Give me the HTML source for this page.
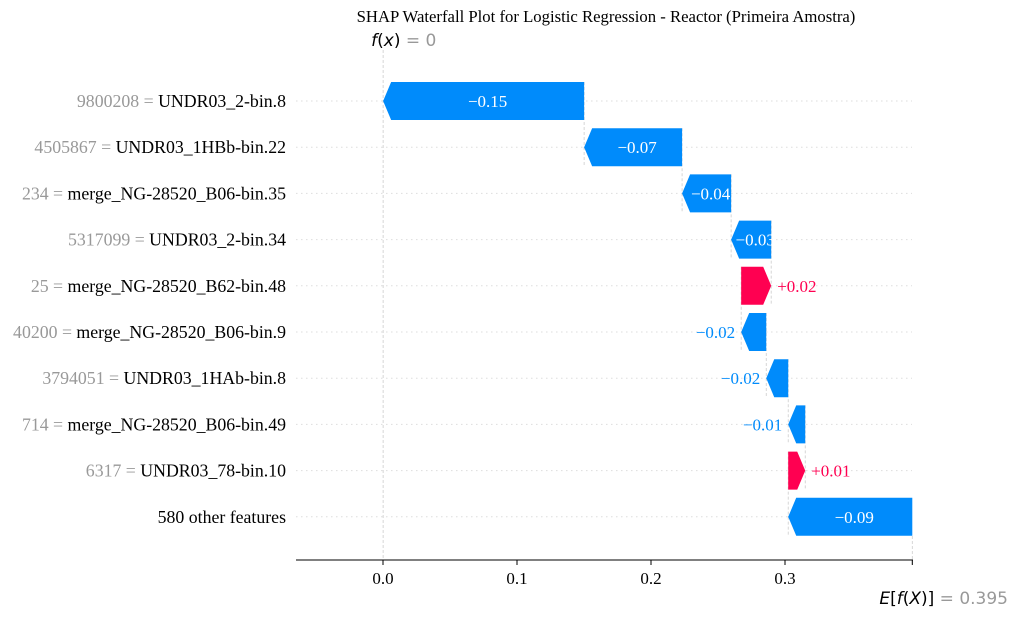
<!DOCTYPE html>
<html><head><meta charset="utf-8"><style>
body{margin:0;background:#fff;}
svg text{font-family:"Liberation Serif",serif;}
</style></head><body>
<svg id="chart" width="1019" height="618" xmlns="http://www.w3.org/2000/svg">
<text x="606" y="22" text-anchor="middle" font-size="16.7" fill="#000">SHAP Waterfall Plot for Logistic Regression - Reactor (Primeira Amostra)</text>
<g id="plot"></g>
</svg>
<script>
const featureValues = ["9800208","4505867","234","5317099","25","40200","3794051","714","6317",""];
const featureNames = ["UNDR03_2-bin.8","UNDR03_1HBb-bin.22","merge_NG-28520_B06-bin.35","UNDR03_2-bin.34","merge_NG-28520_B62-bin.48","merge_NG-28520_B06-bin.9","UNDR03_1HAb-bin.8","merge_NG-28520_B06-bin.49","UNDR03_78-bin.10","580 other features"];
const shapValues = [-0.15,-0.0731,-0.0366,-0.0299,0.0224,-0.0187,-0.0164,-0.0127,0.0127,-0.0926];
const baseValue = 0.395;
const tickValues = [0.0,0.1,0.2,0.3];
const tickLabels = ["0.0","0.1","0.2","0.3"];

const NS="http://www.w3.org/2000/svg";
const g=document.getElementById('plot');
const X=v=>383+v*1340;
const Y=i=>101+i*46.2;
function mk(tag,attrs){const e=document.createElementNS(NS,tag);for(const k in attrs)e.setAttribute(k,attrs[k]);g.appendChild(e);return e;}
const BLUE="#008bfb",RED="#ff0051";
featureNames.forEach((n,i)=>{
  const l=mk('line',{x1:296,x2:912,y1:Y(i),y2:Y(i),stroke:'#ddd','stroke-dasharray':'1.5,3.5','stroke-width':1});
  
  
});
const n=shapValues.length;
const ends=new Array(n);const starts=new Array(n);
let cur=baseValue;
for(let i=n-1;i>=0;i--){starts[i]=cur;cur=cur+shapValues[i];ends[i]=cur;}
const fx=cur;
const fl=mk('line',{x1:X(fx),x2:X(fx),y1:50,y2:560,stroke:'#ccc','stroke-dasharray':'3,2','stroke-width':0.8});


const el=mk('line',{x1:X(baseValue),x2:X(baseValue),y1:536,y2:566,stroke:'#ccc','stroke-dasharray':'3,2','stroke-width':0.8});


for(let i=0;i<n-1;i++){
  const c=mk('line',{x1:X(ends[i+1]),x2:X(ends[i+1]),y1:Y(i)-19,y2:Y(i+1)+19,stroke:'#ccc','stroke-dasharray':'3,2','stroke-width':0.8});
  
  
}
const H=19;
shapValues.forEach((v,i)=>{
  const s=X(starts[i]),e=X(ends[i]),y=Y(i);
  const w=Math.abs(e-s);const hl=Math.min(8,w);
  let pts;
  if(v<0){pts=`${s},${y-H} ${e+hl},${y-H} ${e},${y} ${e+hl},${y+H} ${s},${y+H}`;}
  else{pts=`${s},${y-H} ${e-hl},${y-H} ${e},${y} ${e-hl},${y+H} ${s},${y+H}`;}
  const col=v<0?BLUE:RED;
  const p=mk('polygon',{points:pts,fill:col});
  
  
  const txt=(v<0?'\u2212':'+')+Math.abs(v).toFixed(2);
  let t;
  if(w>35){t=mk('text',{x:(s+e)/2+(v<0?4:-4),y:y+6,'text-anchor':'middle','font-size':17,fill:'#fff'});}
  else if(v<0){t=mk('text',{x:e-6,y:y+6,'text-anchor':'end','font-size':17,fill:col});}
  else{t=mk('text',{x:e+6,y:y+6,'text-anchor':'start','font-size':17,fill:col});}
  t.textContent=txt;
  
  
  const lab=mk('text',{x:286,y:y+6,'text-anchor':'end','font-size':17.8});
  
  
  if(featureValues[i]){
    const a=document.createElementNS(NS,'tspan');a.setAttribute('fill','#999');a.textContent=featureValues[i]+' = ';lab.appendChild(a);
  }
  const b=document.createElementNS(NS,'tspan');b.setAttribute('fill','#000');b.textContent=featureNames[i];lab.appendChild(b);
});
const ax=mk('line',{x1:296,x2:913,y1:560,y2:560,stroke:'#000','stroke-width':1});


tickValues.forEach((v,i)=>{
  const tk=mk('line',{x1:X(v),x2:X(v),y1:560,y2:565,stroke:'#000'});
  
  
  const tl=mk('text',{x:X(v),y:584,'text-anchor':'middle','font-size':17,fill:'#000'});
  tl.textContent=tickLabels[i];
  
  
});
const et=mk('line',{x1:X(baseValue),x2:X(baseValue),y1:560,y2:565,stroke:'#000'});


const fxl=mk('text',{x:X(fx)-12,y:46,'font-size':17});
fxl.setAttribute('style','font-family:"DejaVu Sans",sans-serif');
fxl.innerHTML='<tspan font-style="italic">f</tspan>(<tspan font-style="italic">x</tspan>)<tspan fill="#999"> = '+(Math.round(fx*1000)/1000===0?'0':fx.toFixed(3))+'</tspan>';


const exl=mk('text',{x:1008,y:604,'text-anchor':'end','font-size':17});
exl.setAttribute('style','font-family:"DejaVu Sans",sans-serif');
exl.innerHTML='<tspan font-style="italic">E</tspan>[<tspan font-style="italic">f</tspan>(<tspan font-style="italic">X</tspan>)]<tspan fill="#999"> = '+baseValue.toFixed(3)+'</tspan>';


</script>
</body></html>
